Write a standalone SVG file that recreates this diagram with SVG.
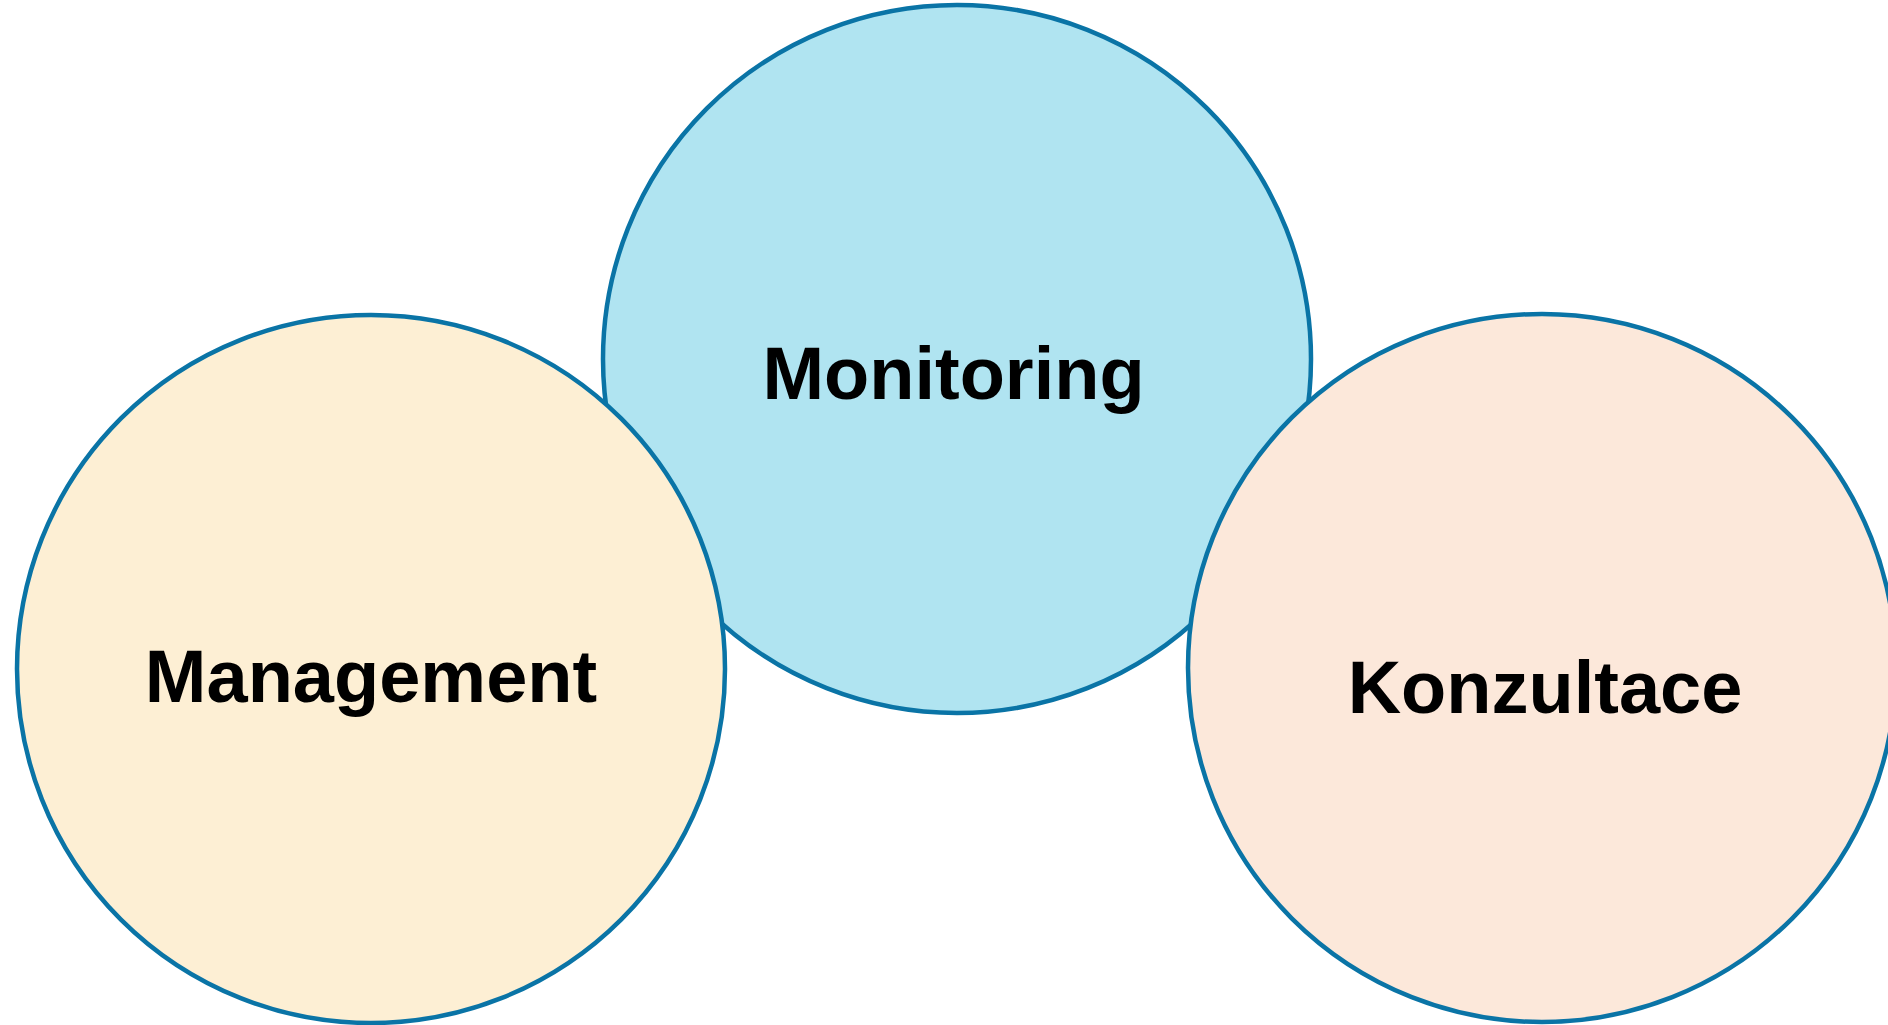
<svg xmlns="http://www.w3.org/2000/svg" width="1888" height="1025" viewBox="0 0 1888 1025">
<style>
.c{stroke:#0a74a6;stroke-width:4.5}
.t{font-family:"Liberation Sans",Arial,sans-serif;font-weight:bold;font-size:74px;fill:#000;text-anchor:middle}
</style>
<rect width="1888" height="1025" fill="#fff"/>
<g id="monitoring">
<circle class="c" cx="957" cy="359" r="354" fill="#b0e4f1"/>
<text class="t" x="953.5" y="399">Monitoring</text>
</g>
<g id="management">
<circle class="c" cx="371" cy="669" r="354" fill="#fdefd4"/>
<text class="t" x="371" y="702">Management</text>
</g>
<g id="konzultace">
<circle class="c" cx="1542" cy="668" r="354" fill="#fce8da"/>
<text class="t" x="1545" y="713">Konzultace</text>
</g>
<g id="connectors"></g>
</svg>
